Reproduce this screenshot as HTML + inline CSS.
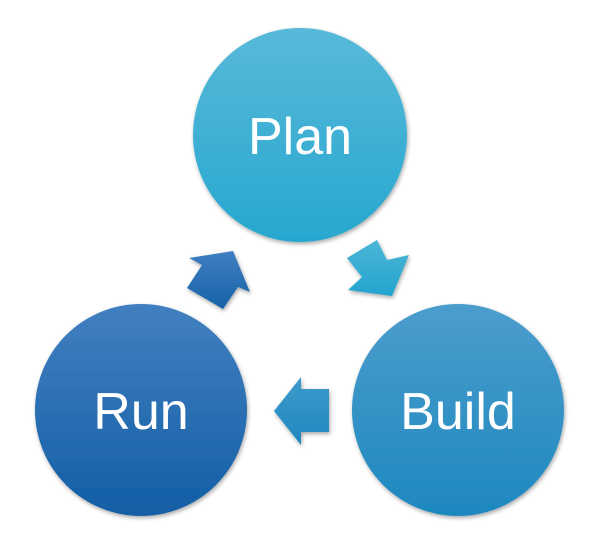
<!DOCTYPE html>
<html><head><style>
html,body{margin:0;padding:0;background:#fff;width:604px;height:539px;overflow:hidden}
</style></head><body>
<svg width="604" height="539" viewBox="0 0 604 539" xmlns="http://www.w3.org/2000/svg">
<defs>
<linearGradient id="gp" x1="0" y1="0" x2="0" y2="1"><stop offset="0" stop-color="#58b9d9"/><stop offset="1" stop-color="#27a7d0"/></linearGradient>
<linearGradient id="gb" x1="0" y1="0" x2="0" y2="1"><stop offset="0" stop-color="#4c9dcc"/><stop offset="1" stop-color="#1d88bf"/></linearGradient>
<linearGradient id="gr" x1="0" y1="0" x2="0" y2="1"><stop offset="0" stop-color="#4280c0"/><stop offset="1" stop-color="#135ea5"/></linearGradient>
<linearGradient id="ga1" x1="0" y1="0" x2="0" y2="1"><stop offset="0" stop-color="#3f7fc0"/><stop offset="1" stop-color="#1762a8"/></linearGradient>
<linearGradient id="ga2" x1="0" y1="0" x2="0" y2="1"><stop offset="0" stop-color="#4cb6d6"/><stop offset="1" stop-color="#22a4cf"/></linearGradient>
<linearGradient id="ga3" x1="0" y1="0" x2="0" y2="1"><stop offset="0" stop-color="#3d99cb"/><stop offset="1" stop-color="#1f89bf"/></linearGradient>
<filter id="sh" x="-20%" y="-20%" width="140%" height="140%"><feGaussianBlur in="SourceAlpha" stdDeviation="2"/><feOffset dx="1" dy="2"/><feComponentTransfer><feFuncA type="linear" slope="0.35"/></feComponentTransfer><feMerge><feMergeNode/><feMergeNode in="SourceGraphic"/></feMerge></filter>
</defs>
<g filter="url(#sh)">
<circle cx="300" cy="135" r="107" fill="url(#gp)"/>
<circle cx="458" cy="410" r="106" fill="url(#gb)"/>
<circle cx="141" cy="410" r="106" fill="url(#gr)"/>
<polygon points="233,251 250,292 238,287 223,309 187,288 202,265 189,258" fill="url(#ga1)"/>
<polygon points="377,240 387,260 409,255 392,296 348,290 362,277 347,258" fill="url(#ga2)"/>
<polygon points="274,411 301,377 301,389 329,389 329,432 301,432 301,445" fill="url(#ga3)"/>
</g>
<g font-family="Liberation Sans, sans-serif" font-size="52" fill="#fff" text-anchor="middle">
<text x="300" y="154">Plan</text>
<text x="458" y="429">Build</text>
<text x="141" y="429">Run</text>
</g>
</svg>
</body></html>
